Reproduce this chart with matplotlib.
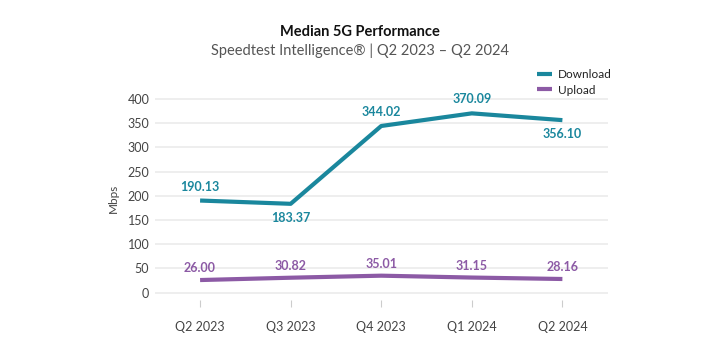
import matplotlib.pyplot as plt

quarters = ['Q2 2023', 'Q3 2023', 'Q4 2023', 'Q1 2024', 'Q2 2024']
download = [190.13, 183.37, 344.02, 370.09, 356.10]
upload = [26.00, 30.82, 35.01, 31.15, 28.16]
# label above (+1) or below (-1) the point
download_side = [1, -1, 1, 1, -1]

c_down = '#1a879d'
c_up = '#8c5aa5'

plt.rcParams['font.family'] = ['Lato', 'DejaVu Sans']

fig = plt.figure(figsize=(7.2, 3.52), dpi=100)
ax = fig.add_axes([0.215, 0.148, 0.629, 0.578])

x = range(len(quarters))
ax.plot(x, download, color=c_down, lw=3, label='Download', solid_capstyle='butt')
ax.plot(x, upload, color=c_up, lw=3, label='Upload', solid_capstyle='butt')

for i, v in enumerate(download):
    off = 10 if download_side[i] > 0 else -10
    ax.annotate(f'{v:.2f}', (i, v), xytext=(0, off), textcoords='offset points',
                ha='center', va='center', color=c_down, fontsize=9, fontweight='bold')
for i, v in enumerate(upload):
    ax.annotate(f'{v:.2f}', (i, v), xytext=(0, 8.5), textcoords='offset points',
                ha='center', va='center', color=c_up, fontsize=9, fontweight='bold')

ax.set_xlim(-0.5, 4.5)
ax.set_ylim(-15, 405)
ax.set_yticks(range(0, 401, 50))
ax.set_xticks(list(x))
ax.set_xticklabels(quarters)
ax.grid(axis='y', color='#ebebeb', lw=1.2)
ax.set_axisbelow(True)
for s in ax.spines.values():
    s.set_visible(False)
ax.tick_params(axis='y', length=0, pad=4, labelsize=9, labelcolor='#444444')
ax.tick_params(axis='x', length=5, width=0.8, color='#cccccc', pad=10,
               labelsize=9, labelcolor='#444444')
ax.set_ylabel('Mbps', fontsize=8.5, color='#444444', labelpad=6)

leg = ax.legend(loc='upper left', bbox_to_anchor=(0.82, 1.185), frameon=False,
                fontsize=8.5, handlelength=1.3, handletextpad=0.5, labelspacing=0.35)
for t in leg.get_texts():
    t.set_color('#222222')

fig.text(0.5, 0.91, 'Median 5G Performance', ha='center', va='center',
         fontsize=10.5, fontweight='bold', color='#111111')
fig.text(0.5, 0.855, 'Speedtest Intelligence® | Q2 2023 – Q2 2024', ha='center', va='center',
         fontsize=10.5, color='#555555')

fig.savefig('out.png', dpi=100)
